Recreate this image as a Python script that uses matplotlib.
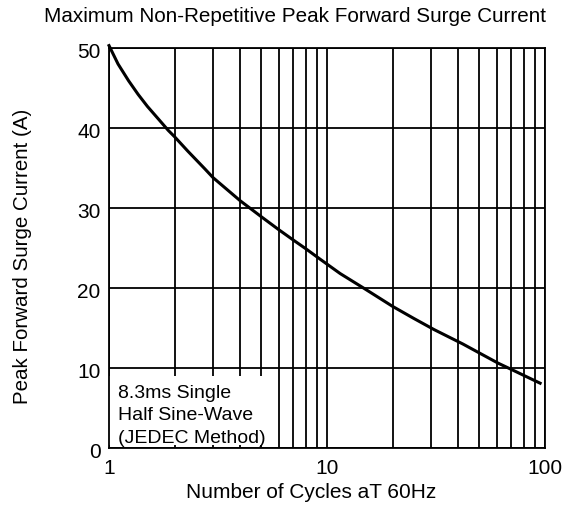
import matplotlib.pyplot as plt
from matplotlib.patches import Rectangle
from matplotlib.ticker import FixedLocator, NullFormatter
from matplotlib.transforms import ScaledTranslation

plt.rcParams["font.family"] = ["Liberation Sans", "DejaVu Sans"]

cycles = [1.0, 1.1, 1.23, 1.36, 1.5, 1.7, 1.87, 2.0, 2.3, 2.75, 3.0, 4.0, 5.0, 6.0, 7.0,
          8.0, 9.3, 11.5, 14.7, 20, 25, 31, 42, 51, 61, 71, 81, 95]
current = [50.3, 48.0, 45.9, 44.2, 42.7, 41.0, 39.7, 38.9, 37.1, 34.9, 33.8, 30.9, 28.9,
           27.3, 26.0, 24.9, 23.6, 21.8, 20.0, 17.7, 16.2, 14.8, 13.0, 11.75, 10.6, 9.75,
           9.0, 8.1]

xticks = [1, 10, 100]
xticklabels = ["1", "10", "100"]
yticks = [0, 10, 20, 30, 40, 50]
minor_x = [2, 3, 4, 5, 6, 7, 8, 9, 20, 30, 40, 50, 60, 70, 80, 90]

fig = plt.figure(figsize=(5.75, 5.15), dpi=100)
ax = fig.add_axes([0.1896, 0.1301, 0.7582, 0.7767])

ax.set_xscale("log")
ax.set_xlim(1, 100)
ax.set_ylim(0, 50)

ax.set_xticks(xticks)
ax.set_xticklabels(xticklabels)
ax.xaxis.set_minor_locator(FixedLocator(minor_x))
ax.xaxis.set_minor_formatter(NullFormatter())
ax.set_yticks(yticks)

ax.grid(True, which="both", color="black", linewidth=1.3)
ax.set_axisbelow(True)
ax.tick_params(which="both", length=0, labelsize=15)
ax.tick_params(axis="x", pad=8)
ax.tick_params(axis="y", pad=6)

# y labels sit a little below their grid lines in the original
shift = ScaledTranslation(0, -3 / 100, fig.dpi_scale_trans)
for lbl in ax.get_yticklabels():
    lbl.set_transform(lbl.get_transform() + shift)

for s in ax.spines.values():
    s.set_linewidth(1.3)
    s.set_zorder(2.5)

# white box behind the note
ax.add_patch(Rectangle((1, 0.4), 4.85, 8.6, facecolor="white", edgecolor="none", zorder=1.5))
ax.text(1.1, 4.0, "8.3ms Single\nHalf Sine-Wave\n(JEDEC Method)", fontsize=14,
        va="center", ha="left", linespacing=1.42, zorder=2)

ax.plot(cycles, current, color="black", linewidth=2.2, zorder=3, clip_on=False,
        solid_joinstyle="round")

fig.text(295 / 575, 1 - 16 / 515, "Maximum Non-Repetitive Peak Forward Surge Current",
         fontsize=14.9, ha="center", va="center")
fig.text(311 / 575, 1 - 492 / 515, "Number of Cycles aT 60Hz",
         fontsize=15, ha="center", va="center")
fig.text(23 / 575, 1 - 256 / 515, "Peak Forward Surge Current (A)",
         fontsize=14.8, ha="center", va="center", rotation=90)

plt.savefig("out.png", dpi=100)
